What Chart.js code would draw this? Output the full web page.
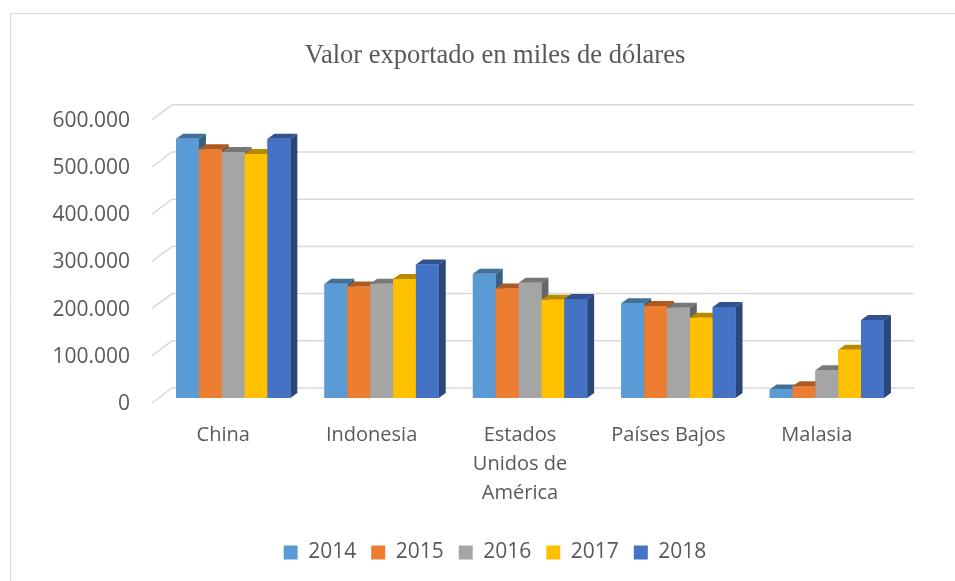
<!DOCTYPE html>
<html>
<head>
<meta charset="utf-8">
<script src="https://cdn.jsdelivr.net/npm/chart.js@4.4.1/dist/chart.umd.min.js"></script>
<style>
  html, body { margin: 0; padding: 0; background: #fff; }
</style>
</head>
<body>
<canvas id="chart" width="955" height="581"></canvas>
<script>
// data (miles de dólares)
const categories = ['China', 'Indonesia', ['Estados', 'Unidos de', 'América'], 'Países Bajos', 'Malasia'];
const years = ['2014', '2015', '2016', '2017', '2018'];
const v2014 = [549000, 242000, 263000, 201000, 18000];
const v2015 = [527000, 236000, 232000, 195000, 25000];
const v2016 = [521000, 242000, 244000, 191000, 59000];
const v2017 = [517000, 252000, 208000, 170000, 102000];
const v2018 = [549000, 283000, 210000, 193000, 165000];
const yTicks = [0, 100000, 200000, 300000, 400000, 500000, 600000];

const colors = ['#5B9BD5', '#ED7D31', '#A5A5A5', '#FFC000', '#4472C4'];
const series = [v2014, v2015, v2016, v2017, v2018];

// fake 3d offsets
const DEPTH_X = 7, DEPTH_Y = -5;
const WALL_X = 13, WALL_Y = -10;
const FRONT_X = -7, FRONT_Y = 5;

function shade(hex, f) {
  const n = parseInt(hex.slice(1), 16);
  const r = Math.round(((n >> 16) & 255) * f);
  const g = Math.round(((n >> 8) & 255) * f);
  const b = Math.round((n & 255) * f);
  return `rgb(${r},${g},${b})`;
}

function poly(ctx, pts, fill) {
  ctx.beginPath();
  ctx.moveTo(pts[0][0], pts[0][1]);
  for (let i = 1; i < pts.length; i++) ctx.lineTo(pts[i][0], pts[i][1]);
  ctx.closePath();
  ctx.fillStyle = fill;
  ctx.fill();
}

const threeD = {
  id: 'threeD',
  beforeDraw(chart) {
    const ctx = chart.ctx;
    ctx.save();
    ctx.strokeStyle = '#d9d9d9';
    ctx.lineWidth = 1;
    ctx.beginPath();
    ctx.moveTo(10.5, 600);
    ctx.lineTo(10.5, 13.5);
    ctx.lineTo(960, 13.5);
    ctx.stroke();
    ctx.restore();
  },
  beforeDatasetsDraw(chart) {
    const {ctx, chartArea: a, scales: {y}} = chart;
    ctx.save();
    ctx.strokeStyle = '#d9d9d9';
    ctx.lineWidth = 1.5;
    yTicks.forEach(t => {
      const py = y.getPixelForValue(t);
      ctx.beginPath();
      ctx.moveTo(a.left + FRONT_X, py + FRONT_Y);
      ctx.lineTo(a.left + WALL_X, py + WALL_Y);
      ctx.lineTo(a.right + WALL_X, py + WALL_Y);
      ctx.stroke();
    });
    ctx.restore();
  },
  afterDatasetsDraw(chart) {
    const ctx = chart.ctx;
    ctx.save();
    chart.data.datasets.forEach((ds, i) => {
      const meta = chart.getDatasetMeta(i);
      meta.data.forEach(bar => {
        const {x, y, width, base} = bar.getProps(['x', 'y', 'width', 'base'], true);
        const l = x - width / 2, r = x + width / 2;
        poly(ctx, [[l, y], [r, y], [r + DEPTH_X, y + DEPTH_Y], [l + DEPTH_X, y + DEPTH_Y]], shade(ds.backgroundColor, 0.72));
        poly(ctx, [[r, y], [r + DEPTH_X, y + DEPTH_Y], [r + DEPTH_X, base + DEPTH_Y], [r, base]], shade(ds.backgroundColor, 0.62));
        bar.draw(ctx);
      });
    });
    ctx.restore();
  }
};

const fontSans = 'Open Sans';
const grey = '#595959';

new Chart(document.getElementById('chart'), {
  type: 'bar',
  data: {
    labels: categories,
    datasets: years.map((yr, i) => ({
      label: yr,
      data: series[i],
      backgroundColor: colors[i],
      borderWidth: 0,
      categoryPercentage: 0.77,
      barPercentage: 1.0
    }))
  },
  options: {
    responsive: false,
    animation: false,
    layout: { padding: { left: 35, right: 0, top: 0, bottom: 8 } },
    scales: {
      x: {
        grid: { display: false, drawTicks: false },
        border: { display: false },
        ticks: {
          font: { family: fontSans, size: 20, lineHeight: 1.45 },
          color: grey,
          padding: 23,
          labelOffset: -10,
          maxRotation: 0,
          autoSkip: false
        },
        afterFit(s) { s.height = 129; }
      },
      y: {
        min: 0,
        max: 600000,
        afterBuildTicks(s) { s.ticks = yTicks.map(v => ({ value: v })); },
        grid: { display: false, drawTicks: false },
        border: { display: false },
        ticks: {
          font: { family: fontSans, size: 21 },
          color: grey,
          padding: 29,
          labelOffset: 6,
          callback: v => v.toLocaleString('de-DE')
        },
        afterFit(s) { s.width = 124; }
      },
      y2: {
        position: 'right',
        display: true,
        grid: { display: false, drawTicks: false },
        border: { display: false },
        ticks: { display: false },
        afterFit(s) { s.width = 54; }
      }
    },
    plugins: {
      title: {
        display: true,
        text: 'Valor exportado en miles de dólares',
        font: { family: 'Liberation Serif', size: 26.5, weight: 'normal' },
        color: grey,
        padding: { top: 40, bottom: 43 }
      },
      legend: {
        position: 'bottom',
        labels: {
          boxWidth: 14,
          boxHeight: 14,
          padding: 15,
          font: { family: fontSans, size: 21 },
          color: grey
        }
      },
      tooltip: { enabled: false }
    }
  },
  plugins: [threeD]
});
</script>
</body>
</html>
